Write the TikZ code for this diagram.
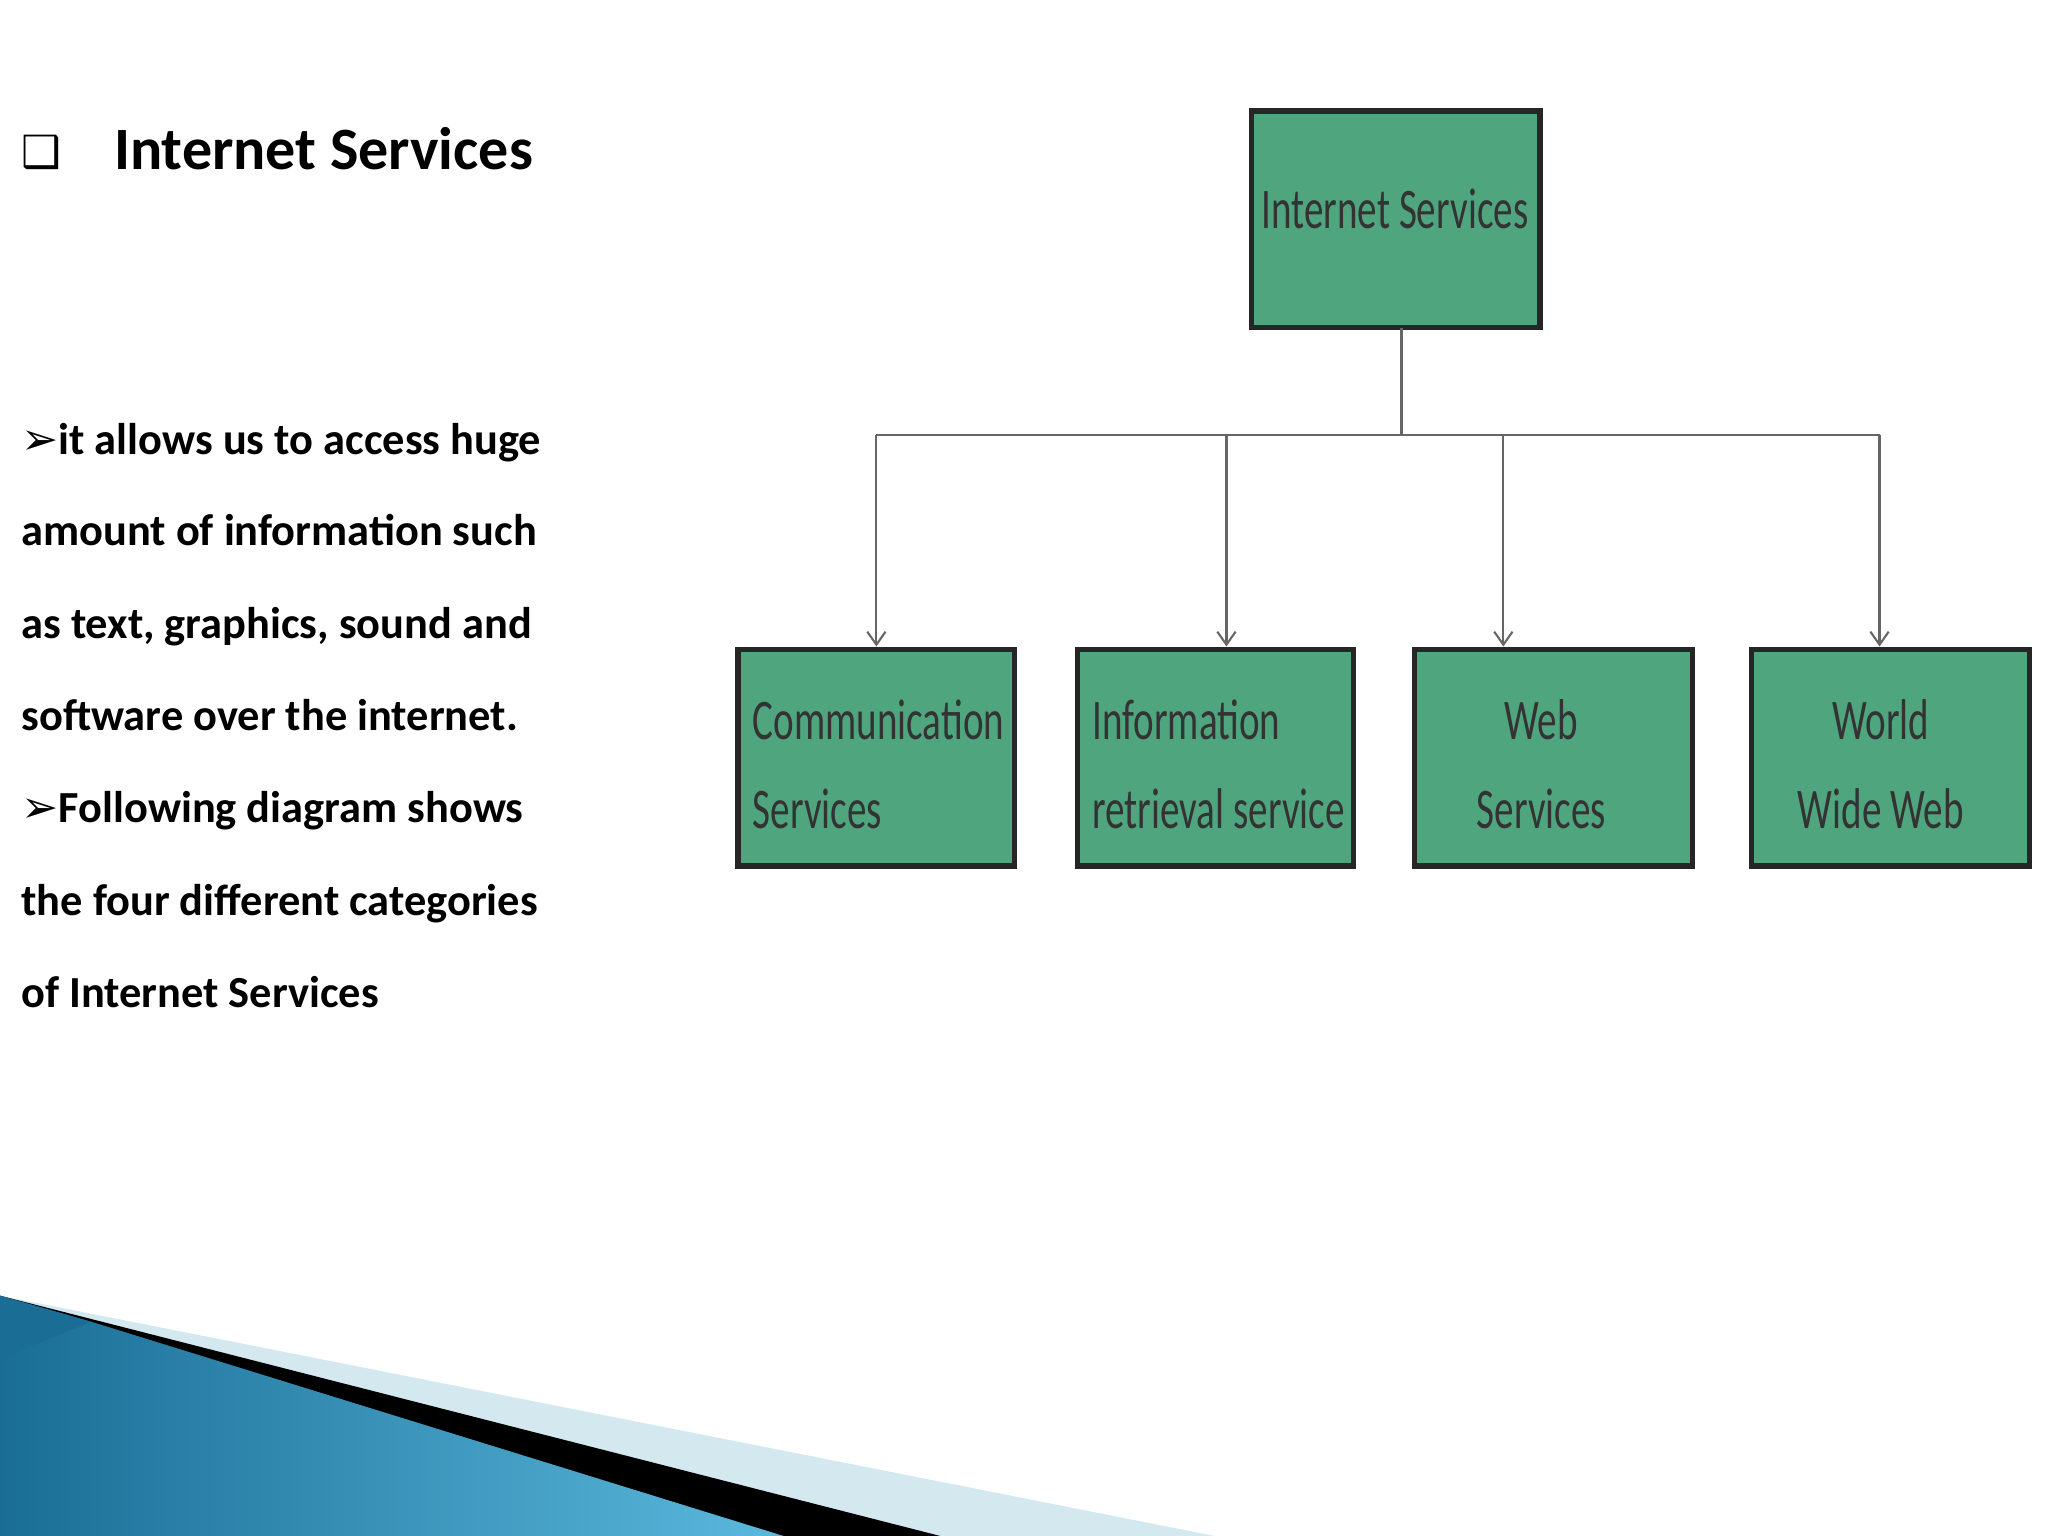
\documentclass[tikz,border=0pt]{standalone}
\usepackage{fontspec}
\setmainfont{Carlito}
\newfontfamily\dejavu{DejaVu Sans}
\definecolor{boxgreen}{HTML}{4FA67E}
\definecolor{bluedark}{HTML}{1A6E96}
\definecolor{bluelight}{HTML}{5BB8DD}
\definecolor{paleblue}{HTML}{D4E8F0}
\tikzset{x=0.5pt,y=-0.5pt,
 gbox/.style={draw=black!85,line width=2pt,fill=boxgreen},
 btxt/.style={font=\fontsize{22}{30}\selectfont,text=black!80,inner sep=0pt},
 conn/.style={draw=black!60,line width=0.8pt},
 arr/.style={conn,-{Straight Barb[length=5pt,width=7pt]}},
 body/.style={font=\fontsize{17}{20}\selectfont\bfseries,anchor=base west,inner sep=0pt}}
\usetikzlibrary{arrows.meta}
\newcommand{\nar}[1]{\scalebox{0.68}[1]{#1}}
\begin{document}
\begin{tikzpicture}
\useasboundingbox (0,0) rectangle (1568,1176);
\fill[white] (0,0) rectangle (1568,1176);
% bottom decoration
\fill[paleblue] (0,992) -- (930,1176) -- (0,1176) -- cycle;
\fill[black] (0,992) -- (720,1176) -- (0,1176) -- cycle;
\shade[left color=bluedark,right color=bluelight,shading angle=90] (0,992) -- (70,1012) -- (600,1176) -- (0,1176) -- cycle;
\fill[bluedark] (0,992) -- (70,1012) -- (0,1040) -- cycle;
% left text
\node[anchor=base west,inner sep=0pt,font=\fontsize{17}{20}\selectfont\dejavu] (bul) at (16,128) {❑};
\node[anchor=base west,inner sep=0pt,font=\fontsize{23}{28}\selectfont\bfseries] (title) at (87,130) {Internet Services};
\node[body] (l1) at (16,348) {{\dejavu ➢}it allows us to access huge};
\node[body] (l2) at (16,418) {amount of information such};
\node[body] (l3) at (16,489) {as text, graphics, sound and};
\node[body] (l4) at (16,559) {software over the internet.};
\node[body] (l5) at (16,630) {{\dejavu ➢}Following diagram shows};
\node[body] (l6) at (16,701) {the four different categories};
\node[body] (l7) at (16,771) {of Internet Services};
% boxes
\draw[gbox] (958,85) rectangle (1179,251);
\node[btxt] (top) at (1068,160) {\nar{Internet Services}};
\draw[gbox] (565,497) rectangle (777,663);
\draw[gbox] (825,497) rectangle (1036,663);
\draw[gbox] (1083,497) rectangle (1296,663);
\draw[gbox] (1341,497) rectangle (1554,663);
\node[btxt,anchor=west,align=left] (c1) at (576,585) {\nar{Communication}\\[4pt]\nar{Services}};
\node[btxt,anchor=west,align=left] (c2) at (836,585) {\nar{Information}\\[4pt]\nar{retrieval service}};
\node[btxt,align=center] (c3) at (1180,585) {\nar{Web}\\[4pt]\nar{Services}};
\node[btxt,align=center] (c4) at (1440,585) {\nar{World}\\[4pt]\nar{Wide Web}};
% connectors
\coordinate (j) at (1073,333);
\draw[conn] (1073,251) -- (j);
\draw[conn] (671,333) -- (1439,333);
\draw[arr] (671,333) -- (671,495);
\draw[arr] (939,333) -- (939,495);
\draw[arr] (1151,333) -- (1151,495);
\draw[arr] (1439,333) -- (1439,495);
\end{tikzpicture}
\end{document}
